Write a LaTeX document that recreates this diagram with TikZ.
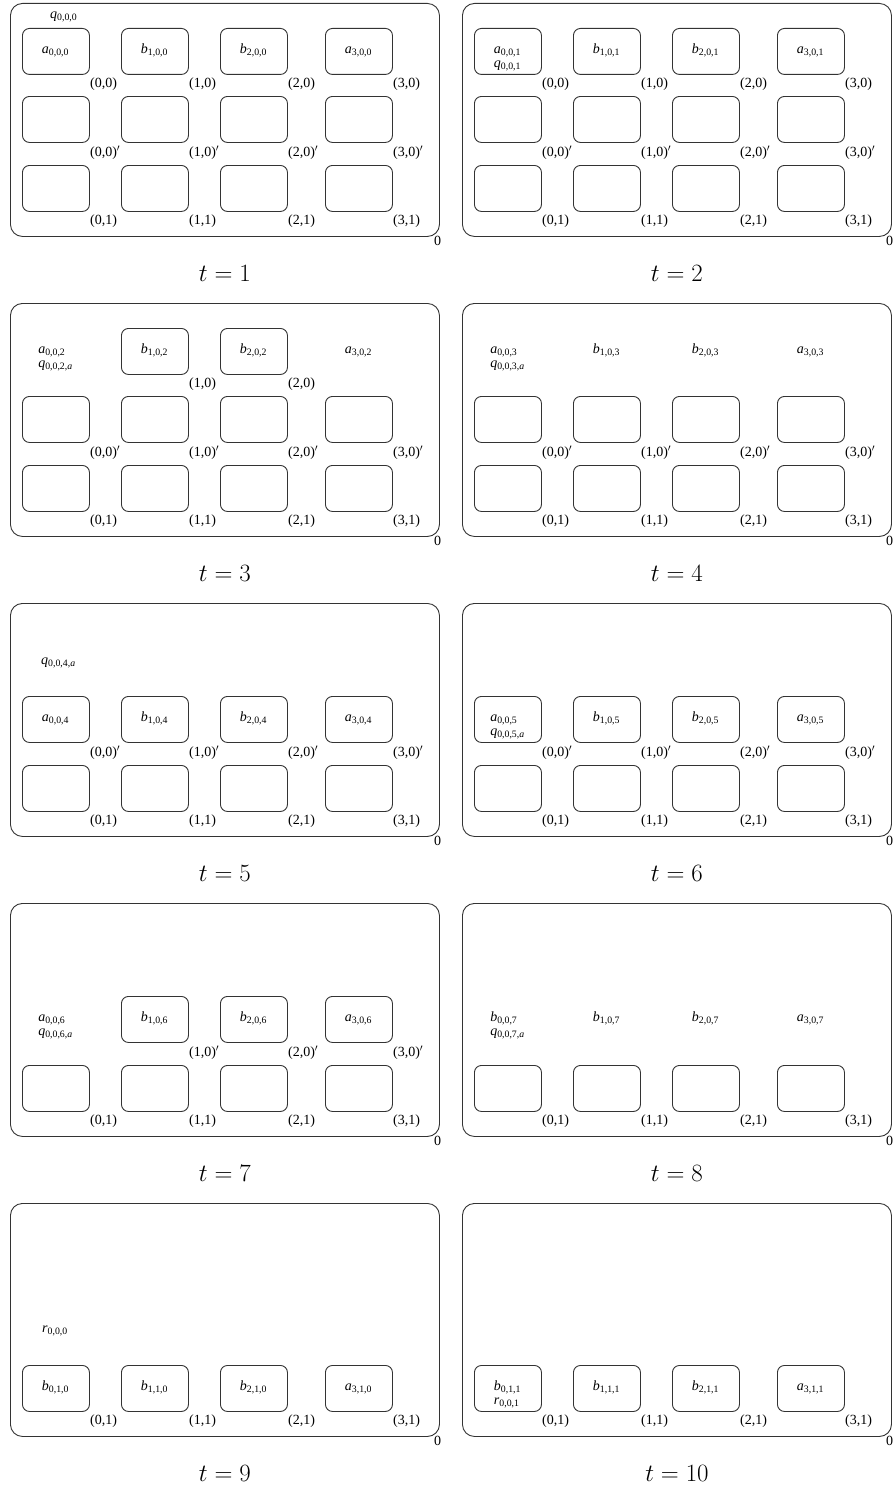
\documentclass[tikz,border=0pt]{standalone}
\usepackage[no-math]{fontspec}
\setmainfont{Liberation Serif}
\usepackage{tikz}
\usetikzlibrary{positioning}

\newcommand{\lblfont}{\fontsize{14}{14}\selectfont}
\newcommand{\capfont}{\fontsize{24.88}{26}\selectfont}
\newcommand{\vlab}[2]{\strut\textit{#1}\textsubscript{#2}}

% one row of slots: panel, row (0,1,2), columns, tag text
\newcommand{\cells}[4]{%
  \foreach \col in {#3}{
    \pgfmathsetmacro{\x}{{12,111,210,315}[\col]}
    \pgfmathsetmacro{\y}{{25,93,162}[#2]}
    \node[cell] (#1c\col#2) at (\x,\y) {};
    \node[tag, below right=2.5pt and 0pt of #1c\col#2.south east] (#1k\col#2) {#4};
  }}
% values written in a row: panel, row, list col/text
\newcommand{\vals}[3]{%
  \foreach \col/\txt in {#3}{
    \pgfmathsetmacro{\x}{{12,111,210,315}[\col]+33.5}
    \pgfmathsetmacro{\y}{{25,93,162}[#2]+15.2}
    \node[val] (#1v\col#2) at (\x,\y) {\txt};
  }}

\begin{document}
\begin{tikzpicture}[
    x=1pt, y=-1pt,
    frame/.style={draw=black!80, line width=0.9pt, rounded corners=12pt, minimum width=429pt,
                  minimum height=233pt, anchor=north west, inner sep=0pt},
    cell/.style={draw=black!80, line width=0.9pt, rounded corners=7pt, minimum width=67pt,
                 minimum height=46pt, anchor=north west, inner sep=0pt},
    val/.style={font=\lblfont, align=left, anchor=north, inner sep=0pt},
    tag/.style={font=\lblfont, inner sep=0pt, execute at begin node=\strut},
    caption/.style={font=\capfont, inner sep=0pt, text height=16pt, text depth=0pt}
]
    \useasboundingbox (0,0) rectangle (895,1488);

    % --- t = 1 ---
    \begin{scope}[shift={(10,3)}]
    \node[frame] (p1) at (0,0) {};
    \node[tag, below right=-1pt and -6pt of p1.south east] (p1z) {0};
    \node[caption, below=28pt of p1.south] (p1t) {$t=1$};
    \cells{p1}{0}{0,1,2,3}{(\col,0)}
    \cells{p1}{1}{0,1,2,3}{(\col,0)$'$}
    \cells{p1}{2}{0,1,2,3}{(\col,1)}
    \vals{p1}{0}{0/{\vlab{a}{0,0,0}}, 1/{\vlab{b}{1,0,0}}, 2/{\vlab{b}{2,0,0}}, 3/{\vlab{a}{3,0,0}}}
    \node[val, anchor=south west] (p1q) at (40,19.7) {\vlab{q}{0,0,0}};
    \end{scope}

    % --- t = 2 ---
    \begin{scope}[shift={(462,3)}]
    \node[frame] (p2) at (0,0) {};
    \node[tag, below right=-1pt and -6pt of p2.south east] (p2z) {0};
    \node[caption, below=28pt of p2.south] (p2t) {$t=2$};
    \cells{p2}{0}{0,1,2,3}{(\col,0)}
    \cells{p2}{1}{0,1,2,3}{(\col,0)$'$}
    \cells{p2}{2}{0,1,2,3}{(\col,1)}
    \vals{p2}{0}{0/{\vlab{a}{0,0,1}\\\vlab{q}{0,0,1}}, 1/{\vlab{b}{1,0,1}}, 2/{\vlab{b}{2,0,1}}, 3/{\vlab{a}{3,0,1}}}
    \end{scope}

    % --- t = 3 ---
    \begin{scope}[shift={(10,303)}]
    \node[frame] (p3) at (0,0) {};
    \node[tag, below right=-1pt and -6pt of p3.south east] (p3z) {0};
    \node[caption, below=28pt of p3.south] (p3t) {$t=3$};
    \cells{p3}{0}{1,2}{(\col,0)}
    \cells{p3}{1}{0,1,2,3}{(\col,0)$'$}
    \cells{p3}{2}{0,1,2,3}{(\col,1)}
    \vals{p3}{0}{0/{\vlab{a}{0,0,2}\\\vlab{q}{0,0,2,\textit{a}}}, 1/{\vlab{b}{1,0,2}}, 2/{\vlab{b}{2,0,2}}, 3/{\vlab{a}{3,0,2}}}
    \end{scope}

    % --- t = 4 ---
    \begin{scope}[shift={(462,303)}]
    \node[frame] (p4) at (0,0) {};
    \node[tag, below right=-1pt and -6pt of p4.south east] (p4z) {0};
    \node[caption, below=28pt of p4.south] (p4t) {$t=4$};
    \cells{p4}{1}{0,1,2,3}{(\col,0)$'$}
    \cells{p4}{2}{0,1,2,3}{(\col,1)}
    \vals{p4}{0}{0/{\vlab{a}{0,0,3}\\\vlab{q}{0,0,3,\textit{a}}}, 1/{\vlab{b}{1,0,3}}, 2/{\vlab{b}{2,0,3}}, 3/{\vlab{a}{3,0,3}}}
    \end{scope}

    % --- t = 5 ---
    \begin{scope}[shift={(10,603)}]
    \node[frame] (p5) at (0,0) {};
    \node[tag, below right=-1pt and -6pt of p5.south east] (p5z) {0};
    \node[caption, below=28pt of p5.south] (p5t) {$t=5$};
    \cells{p5}{1}{0,1,2,3}{(\col,0)$'$}
    \cells{p5}{2}{0,1,2,3}{(\col,1)}
    \vals{p5}{1}{0/{\vlab{a}{0,0,4}}, 1/{\vlab{b}{1,0,4}}, 2/{\vlab{b}{2,0,4}}, 3/{\vlab{a}{3,0,4}}}
    \node[val, anchor=south west] (p5q) at (31,66) {\vlab{q}{0,0,4,\textit{a}}};
    \end{scope}

    % --- t = 6 ---
    \begin{scope}[shift={(462,603)}]
    \node[frame] (p6) at (0,0) {};
    \node[tag, below right=-1pt and -6pt of p6.south east] (p6z) {0};
    \node[caption, below=28pt of p6.south] (p6t) {$t=6$};
    \cells{p6}{1}{0,1,2,3}{(\col,0)$'$}
    \cells{p6}{2}{0,1,2,3}{(\col,1)}
    \vals{p6}{1}{0/{\vlab{a}{0,0,5}\\\vlab{q}{0,0,5,\textit{a}}}, 1/{\vlab{b}{1,0,5}}, 2/{\vlab{b}{2,0,5}}, 3/{\vlab{a}{3,0,5}}}
    \end{scope}

    % --- t = 7 ---
    \begin{scope}[shift={(10,903)}]
    \node[frame] (p7) at (0,0) {};
    \node[tag, below right=-1pt and -6pt of p7.south east] (p7z) {0};
    \node[caption, below=28pt of p7.south] (p7t) {$t=7$};
    \cells{p7}{1}{1,2,3}{(\col,0)$'$}
    \cells{p7}{2}{0,1,2,3}{(\col,1)}
    \vals{p7}{1}{0/{\vlab{a}{0,0,6}\\\vlab{q}{0,0,6,\textit{a}}}, 1/{\vlab{b}{1,0,6}}, 2/{\vlab{b}{2,0,6}}, 3/{\vlab{a}{3,0,6}}}
    \end{scope}

    % --- t = 8 ---
    \begin{scope}[shift={(462,903)}]
    \node[frame] (p8) at (0,0) {};
    \node[tag, below right=-1pt and -6pt of p8.south east] (p8z) {0};
    \node[caption, below=28pt of p8.south] (p8t) {$t=8$};
    \cells{p8}{2}{0,1,2,3}{(\col,1)}
    \vals{p8}{1}{0/{\vlab{b}{0,0,7}\\\vlab{q}{0,0,7,\textit{a}}}, 1/{\vlab{b}{1,0,7}}, 2/{\vlab{b}{2,0,7}}, 3/{\vlab{a}{3,0,7}}}
    \end{scope}

    % --- t = 9 ---
    \begin{scope}[shift={(10,1203)}]
    \node[frame] (p9) at (0,0) {};
    \node[tag, below right=-1pt and -6pt of p9.south east] (p9z) {0};
    \node[caption, below=28pt of p9.south] (p9t) {$t=9$};
    \cells{p9}{2}{0,1,2,3}{(\col,1)}
    \vals{p9}{2}{0/{\vlab{b}{0,1,0}}, 1/{\vlab{b}{1,1,0}}, 2/{\vlab{b}{2,1,0}}, 3/{\vlab{a}{3,1,0}}}
    \node[val, anchor=south west] (p9r) at (32,134) {\vlab{r}{0,0,0}};
    \end{scope}

    % --- t = 10 ---
    \begin{scope}[shift={(462,1203)}]
    \node[frame] (p10) at (0,0) {};
    \node[tag, below right=-1pt and -6pt of p10.south east] (p10z) {0};
    \node[caption, below=28pt of p10.south] (p10t) {$t=10$};
    \cells{p10}{2}{0,1,2,3}{(\col,1)}
    \vals{p10}{2}{0/{\vlab{b}{0,1,1}\\\vlab{r}{0,0,1}}, 1/{\vlab{b}{1,1,1}}, 2/{\vlab{b}{2,1,1}}, 3/{\vlab{a}{3,1,1}}}
    \end{scope}
\end{tikzpicture}
\end{document}
